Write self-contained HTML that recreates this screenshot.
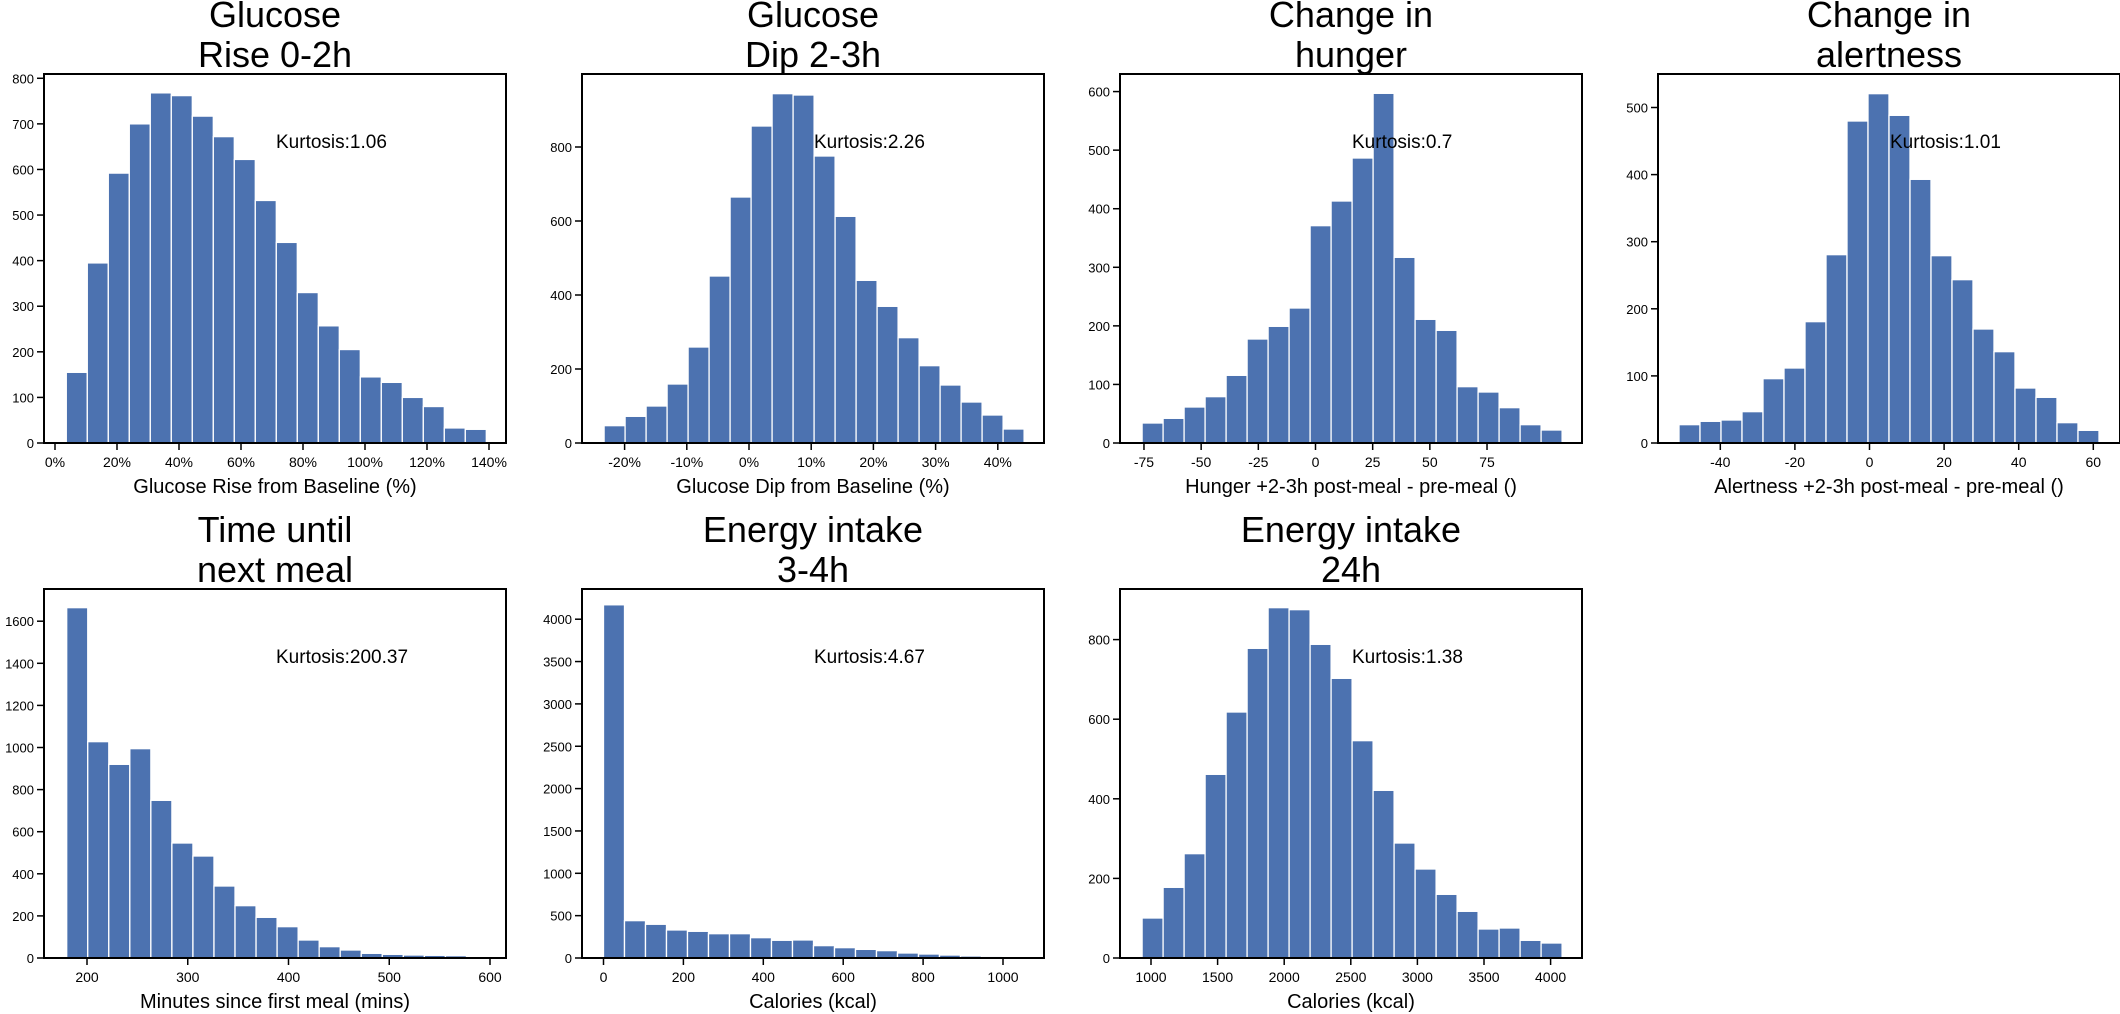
<!DOCTYPE html>
<html><head><meta charset="utf-8"><style>
html,body{margin:0;padding:0;background:#fff;}
svg{display:block;font-family:"Liberation Sans",Arial,sans-serif;}
</style></head><body>
<svg id="s" width="2120" height="1014" xmlns="http://www.w3.org/2000/svg"></svg>
<script>
const C='#4c72b0';
const P=[
 {l:44,t:74,t1:'Glucose',t2:'Rise 0-2h',xl:'Glucose Rise from Baseline (%)',k:'Kurtosis:1.06',
  s:22.3,w:21,h:[155,395,592,700,768,762,717,672,622,532,440,330,257,205,145,133,100,80,33,30].map(v=>v*0.4559),
  yt:[0,100,200,300,400,500,600,700,800].map(v=>[v,v*0.4559]),
  xt:[0,20,40,60,80,100,120,140].map(v=>[v+'%',55+3.1*v])},
 {l:582,t:74,t1:'Glucose',t2:'Dip 2-3h',xl:'Glucose Dip from Baseline (%)',k:'Kurtosis:2.26',
  s:22.1,w:21,h:[1055,1027,996,930,819,606,369,156,59,63,246,427,619,697,791,875,933,984,1023,1065].map(v=>(1107-v)/3),
  yt:[0,200,400,600,800].map(v=>[v,v*0.37]),
  xt:[-20,-10,0,10,20,30,40].map(v=>[v+'%',749+6.22*v])},
 {l:1120,t:74,t1:'Change in',t2:'hunger',xl:'Hunger +2-3h post-meal - pre-meal ()',k:'Kurtosis:0.7',
  s:22.1,w:21,h:[1047,1033,999,968,904,795,757,702,455,381,252,58,550,736,769,938,954,1001,1052,1068].map(v=>(1107-v)/3),
  yt:[0,100,200,300,400,500,600].map(v=>[v,v*0.5857]),
  xt:[-75,-50,-25,0,25,50,75].map(v=>[String(v),1315.5+2.287*v])},
 {l:1658,t:74,t1:'Change in',t2:'alertness',xl:'Alertness +2-3h post-meal - pre-meal ()',k:'Kurtosis:1.01',
  s:21,w:21,h:[1052,1042,1038,1013,914,882,743,542,141,59,124,316,545,617,765,833,942,970,1046,1069].map(v=>(1107-v)/3),
  yt:[0,100,200,300,400,500].map(v=>[v,v*0.671]),
  xt:[-40,-20,0,20,40,60].map(v=>[String(v),1869.5+3.73*v])},
 {l:44,t:589,t1:'Time until',t2:'next meal',xl:'Minutes since first meal (mins)',k:'Kurtosis:200.37',
  s:22.7,w:21.04,h:[56,458,526,479,634,762,801,891,950,985,1013,1053,1073,1083,1093,1096,1098,1099,1100].map(v=>(1107-v)/3),
  yt:[0,200,400,600,800,1000,1200,1400,1600].map(v=>[v,v*0.2105]),
  xt:[200,300,400,500,600].map(v=>[String(v),87+(v-200)*1.0075])},
 {l:582,t:589,t1:'Energy intake',t2:'3-4h',xl:'Calories (kcal)',k:'Kurtosis:4.67',
  s:21.5,w:21,h:[4170,441,398,331,315,287,287,240,209,213,146,122,102,87,59,47,35,24,20,16].map(v=>v*0.0847),
  yt:[0,500,1000,1500,2000,2500,3000,3500,4000].map(v=>[v,v*0.0847]),
  xt:[0,200,400,600,800,1000].map(v=>[String(v),603.5+0.3995*v])},
 {l:1120,t:589,t1:'Energy intake',t2:'24h',xl:'Calories (kcal)',k:'Kurtosis:1.38',
  s:22.1,w:21,h:[987,895,794,556,369,178,56,62,166,268,455,604,762,840,916,967,1020,1017,1054,1062].map(v=>(1107-v)/3),
  yt:[0,200,400,600,800].map(v=>[v,v*0.398]),
  xt:[1000,1500,2000,2500,3000,3500,4000].map(v=>[String(v),1151+(v-1000)*0.1332])}
];
const W=462,H=369;let o='';
for(const p of P){
 const b=p.t+H, cx=p.l+W/2;
 p.h.forEach((h,i)=>{const x=p.l+p.s+i*p.w;o+=`<rect x="${x}" y="${b-h}" width="${p.w}" height="${h}" fill="${C}" stroke="#fff" stroke-width="1.3"/>`;});
 o+=`<rect x="${p.l}" y="${p.t}" width="${W}" height="${H}" fill="none" stroke="#000" stroke-width="2"/>`;
 for(const [v,y] of p.yt){const yy=b-y;o+=`<line x1="${p.l-7}" x2="${p.l}" y1="${yy}" y2="${yy}" stroke="#000" stroke-width="1.5"/><text x="${p.l-10}" y="${yy+5}" font-size="13" text-anchor="end">${v}</text>`;}
 for(const [v,x] of p.xt){o+=`<line x1="${x}" x2="${x}" y1="${b}" y2="${b+7}" stroke="#000" stroke-width="1.5"/><text x="${x}" y="${b+24}" font-size="14" text-anchor="middle">${v}</text>`;}
 o+=`<text x="${cx}" y="${b+50}" font-size="20" text-anchor="middle">${p.xl}</text>`;
 o+=`<text x="${cx}" y="${p.t-47}" font-size="36" text-anchor="middle">${p.t1}</text>`;
 o+=`<text x="${cx}" y="${p.t-7}" font-size="36" text-anchor="middle">${p.t2}</text>`;
 o+=`<text x="${p.l+232}" y="${p.t+74}" font-size="19">${p.k}</text>`;
}
document.getElementById('s').innerHTML=o;
</script>
</body></html>
